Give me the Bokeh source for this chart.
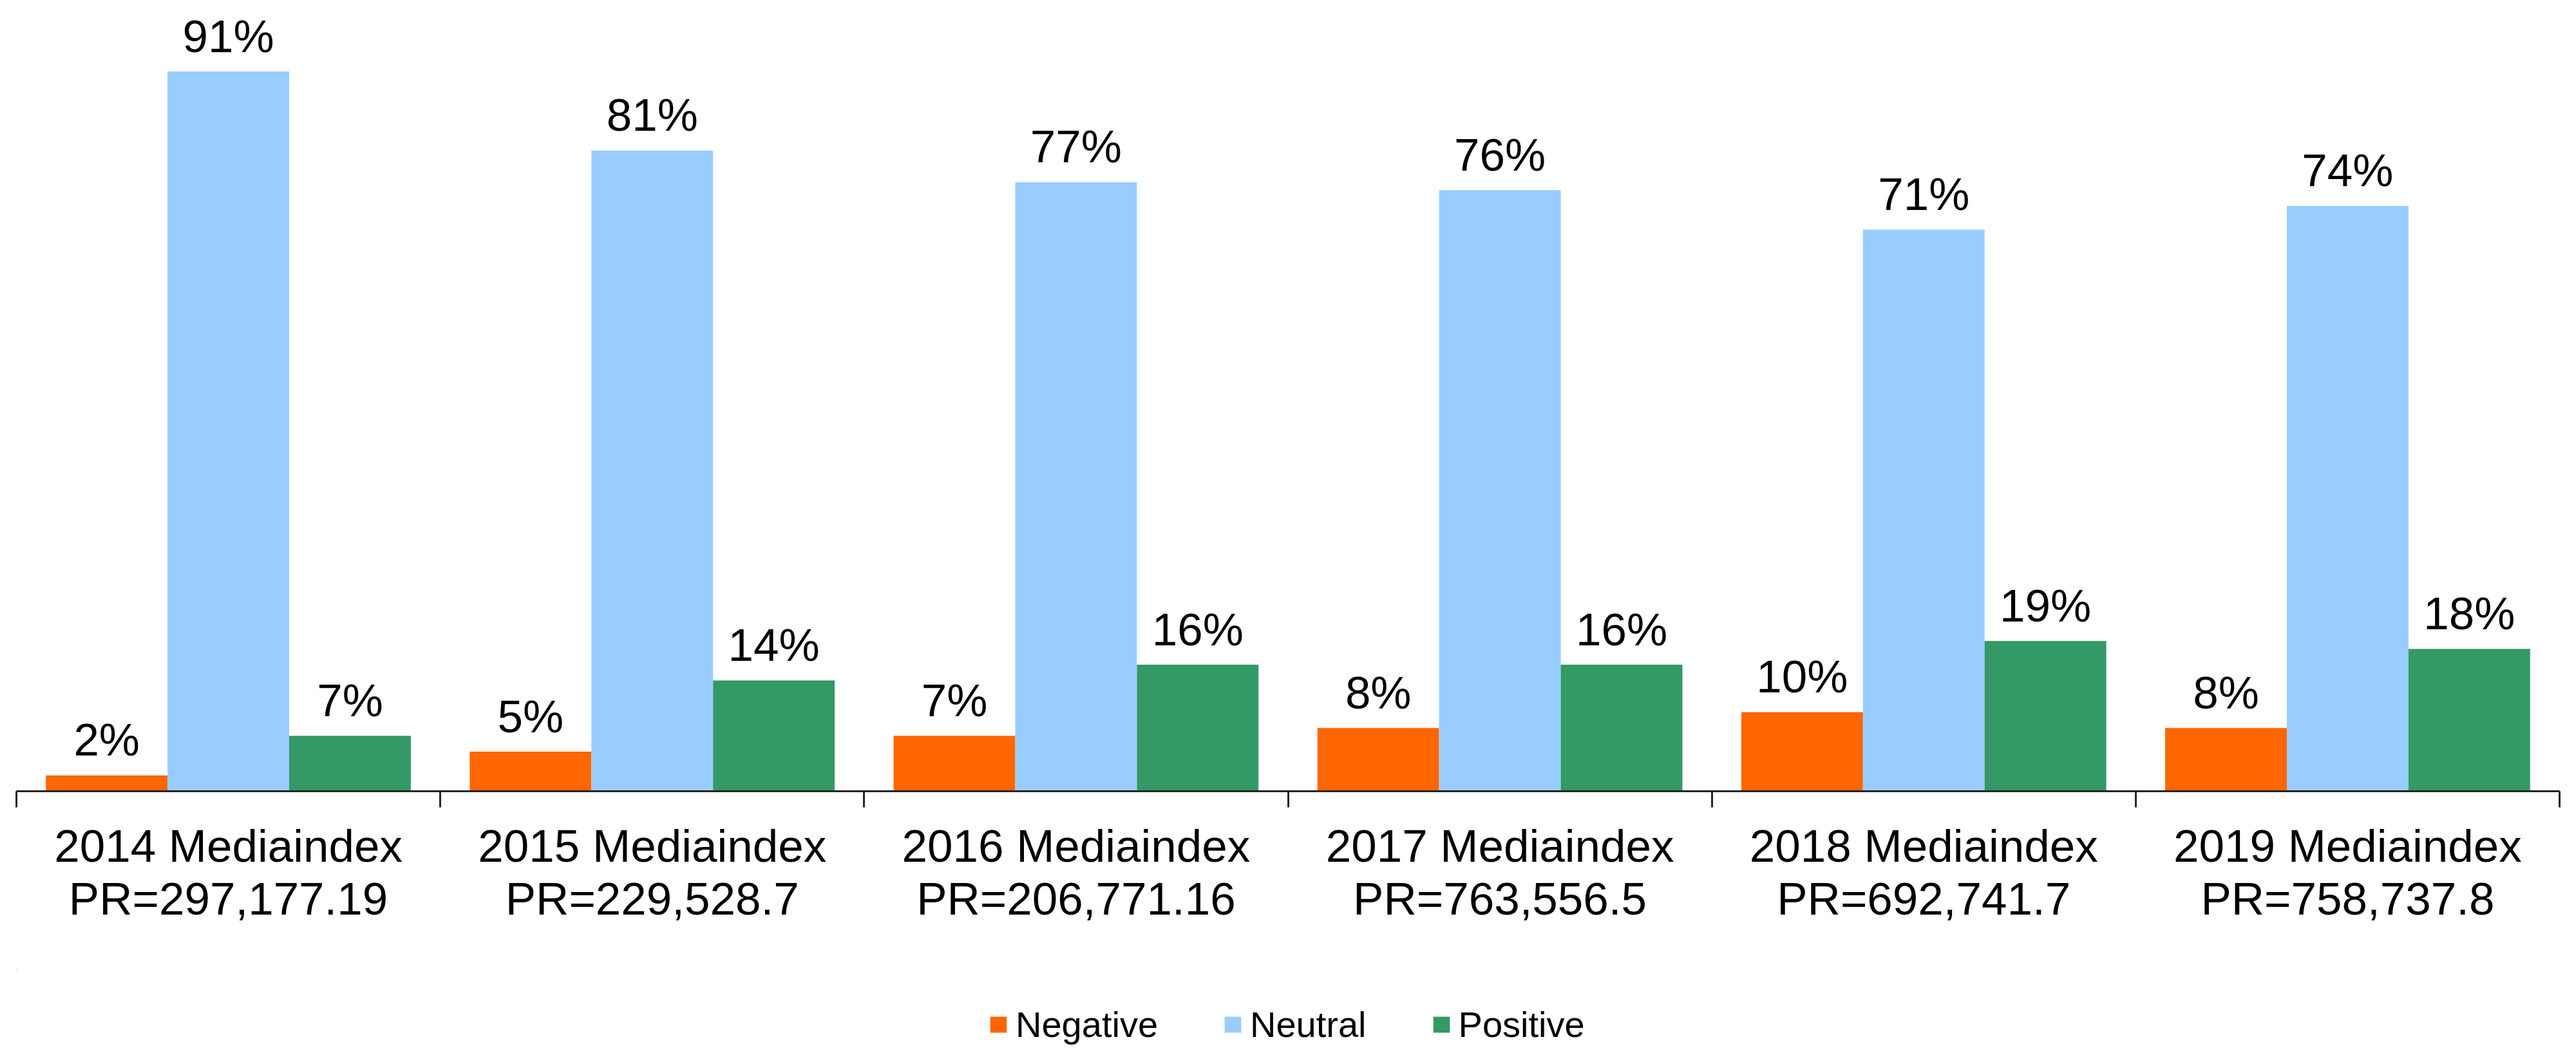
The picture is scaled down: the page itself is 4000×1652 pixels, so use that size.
from bokeh.plotting import figure
from bokeh.layouts import column
from bokeh.models import (ColumnDataSource, Range1d, LinearAxis, FixedTicker, Legend, LegendItem)
from bokeh.transform import dodge
from bokeh.core.properties import value
from bokeh.embed import file_html
from bokeh.resources import INLINE

# ---- data ----
years = ["2014", "2015", "2016", "2017", "2018", "2019"]
pr_values = ["297,177.19", "229,528.7", "206,771.16", "763,556.5", "692,741.7", "758,737.8"]
categories = [f"{y} Mediaindex" for y in years]
negative = [2, 5, 7, 8, 10, 8]
neutral = [91, 81, 77, 76, 71, 74]
positive = [7, 14, 16, 16, 19, 18]
series_names = ["Negative", "Neutral", "Positive"]
series_colors = ["#FF6600", "#99CCFF", "#339966"]

FONT = "Liberation Sans"

n = len(categories)
centers = [i + 0.5 for i in range(n)]
bounds = list(range(n + 1))

src = ColumnDataSource(dict(
    cat=categories, xc=centers,
    Negative=negative, Neutral=neutral, Positive=positive,
    Negative_lbl=[f"{v}%" for v in negative],
    Neutral_lbl=[f"{v}%" for v in neutral],
    Positive_lbl=[f"{v}%" for v in positive],
))

p = figure(x_range=Range1d(0, n),
           y_range=Range1d(0, 100),
           width=3984, height=1504,
           output_backend="svg", toolbar_location=None,
           x_axis_location=None, y_axis_location=None,
           min_border_left=25, min_border_right=10,
           min_border_top=0, min_border_bottom=276,
           outline_line_color=None)
p.grid.grid_line_color = None

bw = 0.287
offsets = [-bw, 0.0, bw]
for name, col, off in zip(series_names, series_colors, offsets):
    p.vbar(x=dodge("xc", off), top=name, width=bw,
           source=src, fill_color=col, line_color=None)
    p.text(x=dodge("xc", off), y=name, text=name + "_lbl",
           source=src, text_align="center", text_baseline="alphabetic",
           y_offset=-55, text_font=value(FONT), text_font_size="71px",
           text_color="black")

overrides = {c: f"{cat}\nPR={pr}" for c, cat, pr in zip(centers, categories, pr_values)}

axis = LinearAxis(ticker=FixedTicker(ticks=centers, minor_ticks=bounds),
                  major_label_overrides=overrides,
                  axis_line_width=3, axis_line_color="#262626",
                  major_tick_line_color=None, major_tick_out=0, major_tick_in=0,
                  minor_tick_out=25, minor_tick_in=0, minor_tick_line_width=3,
                  minor_tick_line_color="#262626",
                  major_label_standoff=20,
                  major_label_text_font=FONT, major_label_text_font_size="71px",
                  major_label_text_color="black",
                  major_label_text_line_height=1.05)
p.add_layout(axis, "below")

# ---- legend strip (same series as zero-height bars kept far outside its visible ranges) ----
lg = figure(x_range=Range1d(1000, 1001), y_range=Range1d(-2, -1),
            width=3984, height=132,
            output_backend="svg", toolbar_location=None,
            x_axis_location=None, y_axis_location=None,
            min_border_left=0, min_border_right=0,
            min_border_top=0, min_border_bottom=0,
            outline_line_color=None)
lg.grid.grid_line_color = None
items = []
for name, col, off in zip(series_names, series_colors, offsets):
    r = lg.vbar(x=dodge("xc", off), top=name, bottom=name, width=bw, source=src,
                fill_color=col, line_color=None)
    items.append(LegendItem(label=name, renderers=[r]))

legend = Legend(items=items, orientation="horizontal", location=(1509, 13),
                label_text_font=FONT, label_text_font_size="56px", label_text_color="black",
                glyph_width=32, glyph_height=31, label_standoff=11, spacing=100,
                padding=0, margin=0, border_line_color=None, background_fill_alpha=0)
lg.add_layout(legend)

layout = column(p, lg, spacing=0)
open("out.html", "w").write(file_html(layout, INLINE))
